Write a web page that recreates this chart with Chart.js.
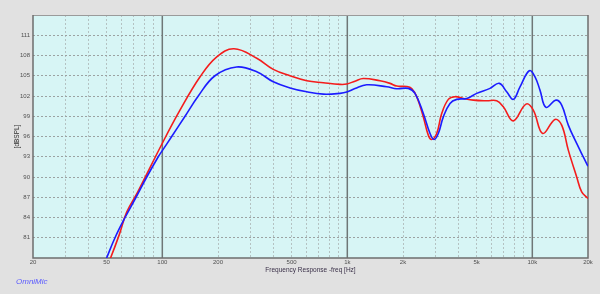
<!DOCTYPE html>
<html>
<head>
<meta charset="utf-8">
<script src="https://cdn.jsdelivr.net/npm/chart.js@4.4.1/dist/chart.umd.min.js"></script>
<style>
  html, body { margin: 0; padding: 0; background: #e1e1e1; }
  canvas { display: block; }
</style>
</head>
<body>
<canvas id="fr" width="600" height="294"></canvas>
<script>
/* --------------- Data ------------------------------------------------- */
const redFreq = [50, 52.5, 58.6, 64.2, 73.7, 100, 124.6, 160, 197, 244, 324, 398, 490, 604, 742,
  913, 993, 1100, 1220, 1502, 1702, 1850, 2094, 2229, 2372, 2576, 2740, 2858, 3042, 3238, 3516, 3820, 4236, 4800, 5670,
  6421, 6970, 7894, 9246, 10122, 11378, 13260, 14416, 15652, 17374, 18490, 20000];
const redSpl = [76.8, 78.0, 81.5, 84.8, 87.8, 95.0, 99.9, 104.85, 107.8, 109.0, 107.6, 105.95, 105.0, 104.25, 103.96,
  103.72, 103.77, 104.2, 104.6, 104.25, 103.87, 103.47, 103.4, 103.1, 101.9, 98.9, 96.2, 95.56, 96.45, 99.4, 101.5, 101.9, 101.64, 101.39, 101.29,
  101.29, 100.4, 98.32, 100.8, 99.91, 96.45, 98.53, 97.68, 93.98, 90.01, 87.79, 86.81];

const blueFreq = [48, 50, 55.5, 62.9, 72.1, 82.4, 95.1, 100, 112.4, 132.7, 156.5, 192.6, 252, 324, 398, 490, 604, 742, 913,
  993, 1100, 1273, 1634, 1850, 2136, 2322, 2576, 2800, 2942, 3104, 3304, 3590, 3902, 4420, 5006, 5906, 6630, 7270, 7894,
  8580, 9632, 10340, 11000, 11860, 13420, 14416, 15652, 17374, 18860, 20000];
const blueSpl = [76.8, 78.0, 81.0, 84.0, 87.0, 90.0, 93.0, 93.9, 96.0, 99.0, 102.0, 105.0, 106.3, 105.59, 104.1, 103.2, 102.62, 102.28, 102.39,
  102.58, 103.1, 103.66, 103.36, 103.07, 103.13, 102.39, 99.42, 96.45, 95.56, 96.45, 98.91, 100.9, 101.5, 101.64, 102.39, 103.13, 103.87, 102.62, 101.5,
  103.36, 105.74, 104.85, 102.87, 100.31, 101.39, 100.65, 97.68, 94.97, 92.98, 91.6];

/* --------------- Axes --------------------- */
const yTicks = [81, 84, 87, 90, 93, 96, 99, 102, 105, 108, 111];
const xGrid = [20, 30, 40, 50, 60, 70, 80, 90, 100, 200, 300, 400, 500, 600, 700, 800, 900,
  1000, 2000, 3000, 4000, 5000, 6000, 7000, 8000, 9000, 10000, 20000];
const xLabelValues = [20, 50, 100, 200, 500, 1000, 2000, 5000, 10000, 20000];
const xLabelTexts = ["20", "50", "100", "200", "500", "1k", "2k", "5k", "10k", "20k"];
const majorLines = [100, 1000, 10000];

const FONT = "'Liberation Sans', Arial, sans-serif";

const toPoints = (fs, vs) => fs.map((f, i) => ({ x: f, y: vs[i] }));

/* --------------- Background, box and decade lines --------------------- */
const frame = {
  id: "frame",
  beforeDraw(chart) {
    const { ctx, chartArea: a } = chart;
    ctx.save();
    ctx.fillStyle = "#e1e1e1";
    ctx.fillRect(0, 0, chart.width, chart.height);
    ctx.fillStyle = "#d7f5f5";
    ctx.fillRect(a.left, a.top, a.right - a.left, a.bottom - a.top);
    ctx.restore();
  },
  beforeDatasetsDraw(chart) {
    const { ctx, chartArea: a, scales } = chart;
    ctx.save();
    ctx.strokeStyle = "#6f7777";
    ctx.lineWidth = 1.5;
    for (const v of majorLines) {
      const px = scales.x.getPixelForValue(v);
      ctx.beginPath();
      ctx.moveTo(px, a.top);
      ctx.lineTo(px, a.bottom);
      ctx.stroke();
    }
    ctx.strokeStyle = "#9a9a9a";
    ctx.lineWidth = 1;
    ctx.beginPath();
    ctx.moveTo(a.left, a.top + 0.5);
    ctx.lineTo(a.right, a.top + 0.5);
    ctx.stroke();
    ctx.strokeStyle = "#6e6e6e";
    ctx.lineWidth = 1.5;
    ctx.beginPath();
    ctx.moveTo(a.left, a.top);
    ctx.lineTo(a.left, a.bottom);
    ctx.lineTo(a.right, a.bottom);
    ctx.lineTo(a.right, a.top);
    ctx.stroke();
    ctx.restore();
  },
  afterDraw(chart) {
    const { ctx } = chart;
    ctx.save();
    ctx.fillStyle = "#5a5aff";
    ctx.font = "italic 8px " + FONT;
    ctx.textBaseline = "alphabetic";
    ctx.fillText("OmniMic", 16, 284);
    ctx.restore();
  },
};

/* --------------- Chart --------------------- */
new Chart(document.getElementById("fr"), {
  type: "line",
  plugins: [frame],
  data: {
    datasets: [
      {
        label: "blue",
        data: toPoints(blueFreq, blueSpl),
        borderColor: "#1c1cff",
        borderWidth: 1.6,
        pointRadius: 0,
        tension: 0.4,
      },
      {
        label: "red",
        data: toPoints(redFreq, redSpl),
        borderColor: "#f41c1c",
        borderWidth: 1.6,
        pointRadius: 0,
        tension: 0.4,
      },
    ],
  },
  options: {
    responsive: false,
    animation: false,
    devicePixelRatio: 1,
    layout: { padding: { left: 0, top: 15, right: 12, bottom: 0 } },
    plugins: { legend: { display: false }, tooltip: { enabled: false } },
    scales: {
      x: {
        type: "logarithmic",
        min: 20,
        max: 20000,
        afterFit: (s) => { s.height = 36; },
        afterBuildTicks: (s) => { s.ticks = xGrid.map((v) => ({ value: v })); },
        ticks: {
          autoSkip: false,
          maxRotation: 0,
          padding: 1,
          color: "#505050",
          font: { size: 6, family: FONT },
          callback: (v) => {
            const i = xLabelValues.indexOf(v);
            return i < 0 ? "" : xLabelTexts[i];
          },
        },
        grid: {
          drawTicks: false,
          lineWidth: 1,
          color: (c) => (c.tick && (c.tick.value === 20 || c.tick.value === 20000) ? "rgba(0,0,0,0)" : "#b4c2c2"),
        },
        border: { display: false, dash: [2, 2] },
        title: {
          display: true,
          text: "Frequency Response -freq [Hz]",
          color: "#3a3048",
          font: { size: 6.5, family: FONT },
          padding: { top: 0, bottom: 20 },
        },
      },
      y: {
        min: 78,
        max: 114,
        afterFit: (s) => { s.width = 33; },
        afterBuildTicks: (s) => { s.ticks = yTicks.map((v) => ({ value: v })); },
        ticks: {
          padding: 3,
          color: "#505050",
          font: { size: 6, family: FONT },
        },
        grid: { drawTicks: false, lineWidth: 1, color: "#9ca2a2" },
        border: { display: false, dash: [2, 2] },
        title: {
          display: true,
          text: "[dBSPL]",
          color: "#303030",
          font: { size: 6.5, family: FONT },
          padding: { top: 13, bottom: 0 },
        },
      },
    },
  },
});
</script>
</body>
</html>
